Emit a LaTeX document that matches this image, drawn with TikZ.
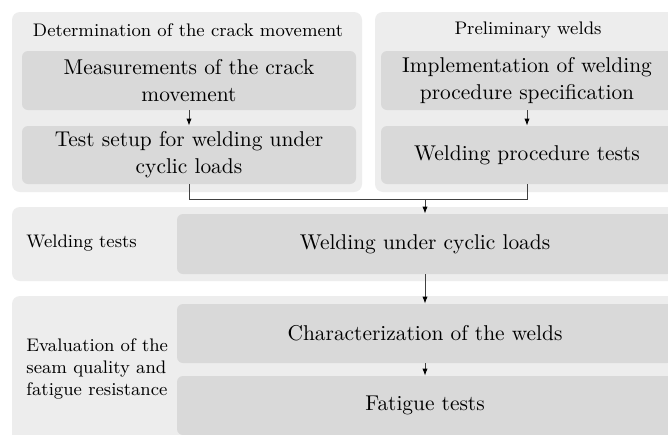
\documentclass[tikz,border=0pt]{standalone}
\usetikzlibrary{arrows.meta}
\definecolor{outergray}{HTML}{EDEDED}
\definecolor{innergray}{HTML}{D9D9D9}
\begin{document}
\begin{tikzpicture}[x=0.5pt, y=-0.5pt]
\tikzset{grp/.style={fill=outergray, rounded corners=4pt, inner sep=0pt},
  etape/.style={fill=innergray, rounded corners=3pt, inner sep=0pt, align=center, font=\fontsize{10.7}{13.5}\selectfont},
  titre/.style={inner sep=0pt, align=center, font=\fontsize{9.1}{11.2}\selectfont},
  fleche/.style={-{Latex[length=3.5pt,width=2.6pt,color=black]}, draw=black!75, line width=0.4pt}}
\clip (0, 0) rectangle (668, 434);
\fill[white] (0, 0) rectangle (668, 434);
% groups
\node[grp, minimum width=175pt, minimum height=90pt] (G1) at (187, 102) {};
\node[grp, minimum width=152pt, minimum height=90pt] (G2) at (527, 102) {};
\node[grp, minimum width=333.5pt, minimum height=37pt] (G3) at (345.5, 244) {};
\node[grp, minimum width=333.5pt, minimum height=75pt] (G4) at (345.5, 371) {};
% group titles
\node[titre] (T1) at (188, 30) {Determination of the crack movement};
\node[titre] (T2) at (528, 30) {Preliminary welds};
\node[titre, anchor=west] (T3) at (26, 243) {Welding tests};
\node[titre, anchor=west, align=left] (T4) at (26, 369) {Evaluation of the\\seam quality and\\fatigue resistance};
% steps
\node[etape, minimum width=167pt, minimum height=29.5pt] (S1) at (189, 80.5) {Measurements of the crack\\movement};
\node[etape, minimum width=167pt, minimum height=29pt] (S2) at (189, 155) {Test setup for welding under\\cyclic loads};
\node[etape, minimum width=146pt, minimum height=29.5pt] (S3) at (527, 80.5) {Implementation of welding\\procedure specification};
\node[etape, minimum width=146pt, minimum height=29pt] (S4) at (527, 155) {Welding procedure tests};
\node[etape, minimum width=248pt, minimum height=30pt] (S5) at (425, 244) {Welding under cyclic loads};
\node[etape, minimum width=248pt, minimum height=29.5pt] (S6) at (425, 333.5) {Characterization of the welds};
\node[etape, minimum width=248pt, minimum height=29.5pt] (S7) at (425, 405.5) {Fatigue tests};
\coordinate (J) at (425, 199.5);
% connectors
\draw[fleche] (S1) -- (S2);
\draw[fleche] (S3) -- (S4);
\draw[draw=black!75, line width=0.4pt] (S2.south) |- (J) -| (S4.south);
\draw[fleche] (J) -- (S5);
\draw[fleche] (S5) -- (S6);
\draw[fleche] (S6) -- (S7);
\end{tikzpicture}
\end{document}
